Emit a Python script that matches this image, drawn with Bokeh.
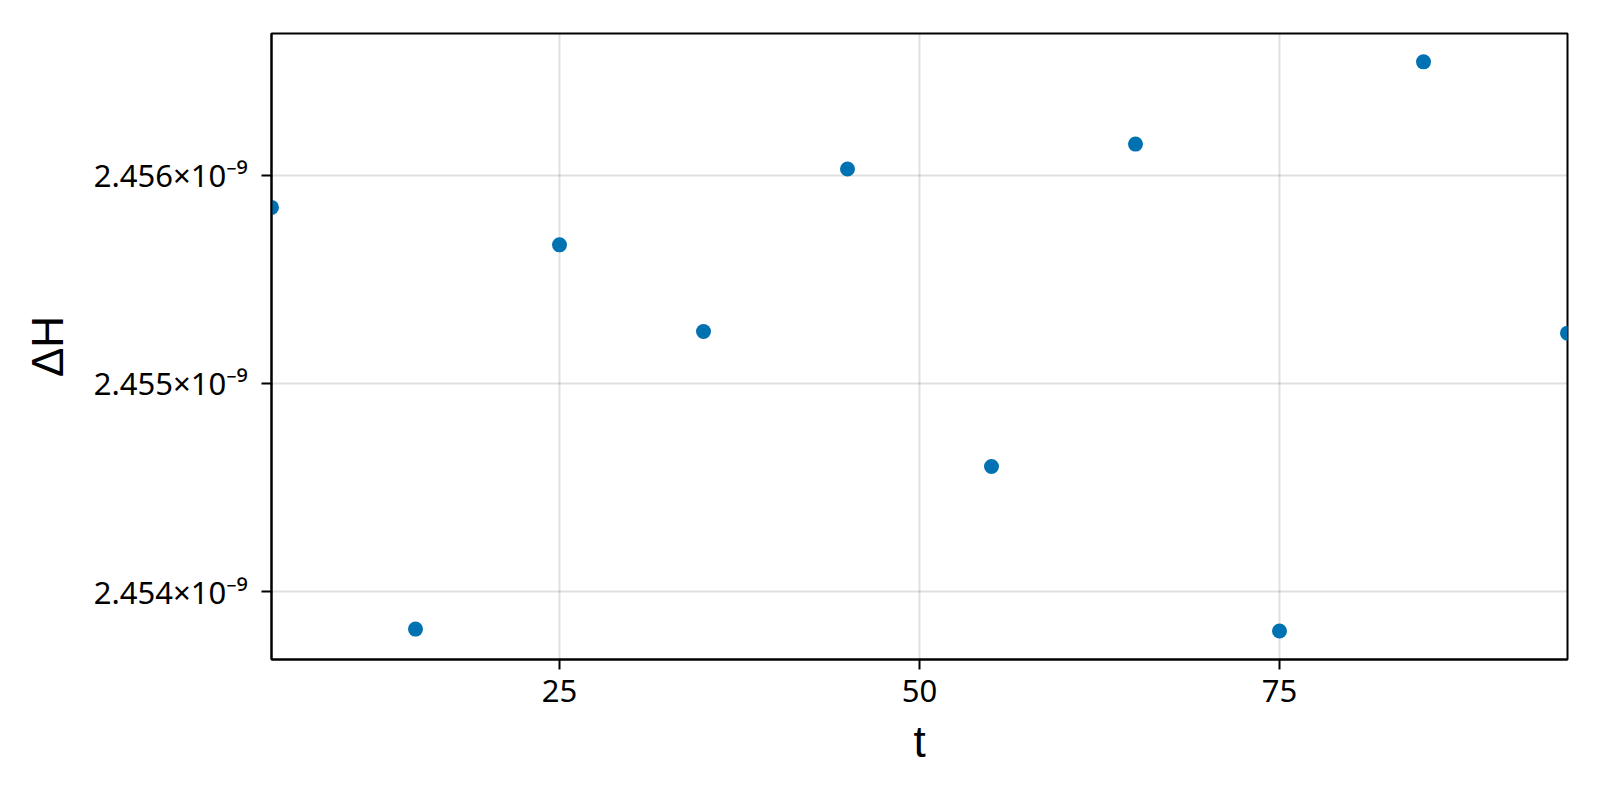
from bokeh.plotting import figure
from bokeh.models import FixedTicker, Range1d
from bokeh.embed import file_html
from bokeh.resources import INLINE

# ---- data ----
t = [5, 15, 25, 35, 45, 55, 65, 75, 85, 95]
dH = [2.455845e-9, 2.453820e-9, 2.455665e-9, 2.455249e-9, 2.456029e-9,
      2.454601e-9, 2.456149e-9, 2.453811e-9, 2.456544e-9, 2.455241e-9]

x_ticks = [25, 50, 75]
x_tick_labels = ["25", "50", "75"]
y_ticks = [2.454e-9, 2.455e-9, 2.456e-9]
y_tick_labels = ["2.454×10⁻⁹", "2.455×10⁻⁹", "2.456×10⁻⁹"]

x_limits = (5, 95)
y_limits = (2.453674e-9, 2.456680e-9)

TICK_FONT = "Noto Sans"
LABEL_FONT = "Liberation Sans"
COLOR = "#0072B2"

p = figure(width=1592, height=792, output_backend="svg", toolbar_location=None,
           x_range=Range1d(*x_limits), y_range=Range1d(*y_limits),
           min_border_left=271, min_border_right=25, min_border_top=33,
           min_border_bottom=133)
p.background_fill_color = "white"
p.border_fill_color = "white"
p.outline_line_color = "black"
p.outline_line_width = 2

p.scatter(t, dH, size=15, color=COLOR, line_color=None)

p.xaxis.ticker = FixedTicker(ticks=x_ticks)
p.yaxis.ticker = FixedTicker(ticks=y_ticks)
p.xaxis.major_label_overrides = dict(zip(x_ticks, x_tick_labels))
p.yaxis.major_label_overrides = dict(zip(y_ticks, y_tick_labels))

for ax in (p.xaxis[0], p.yaxis[0]):
    ax.axis_line_color = "black"
    ax.axis_line_width = 2
    ax.major_tick_line_color = "black"
    ax.major_tick_line_width = 2
    ax.major_tick_in = 0
    ax.major_tick_out = 10
    ax.minor_tick_line_color = None
    ax.major_label_text_font = TICK_FONT
    ax.major_label_text_font_size = "31px"
    ax.major_label_text_color = "black"
    ax.axis_label_text_font = LABEL_FONT
    ax.axis_label_text_font_size = "44px"
    ax.axis_label_text_font_style = "normal"
    ax.axis_label_text_color = "black"

p.xaxis.axis_label = "t"
p.yaxis.axis_label = "ΔH"
p.xaxis.major_label_standoff = 10
p.yaxis.major_label_standoff = 14
p.xaxis.axis_label_standoff = 12
p.yaxis.axis_label_standoff = 19

for g in (p.xgrid[0], p.ygrid[0]):
    g.grid_line_color = "black"
    g.grid_line_alpha = 0.12
    g.grid_line_width = 2
p.xgrid.ticker = FixedTicker(ticks=x_ticks)
p.ygrid.ticker = FixedTicker(ticks=y_ticks)

open("out.html", "w").write(file_html(p, INLINE))
